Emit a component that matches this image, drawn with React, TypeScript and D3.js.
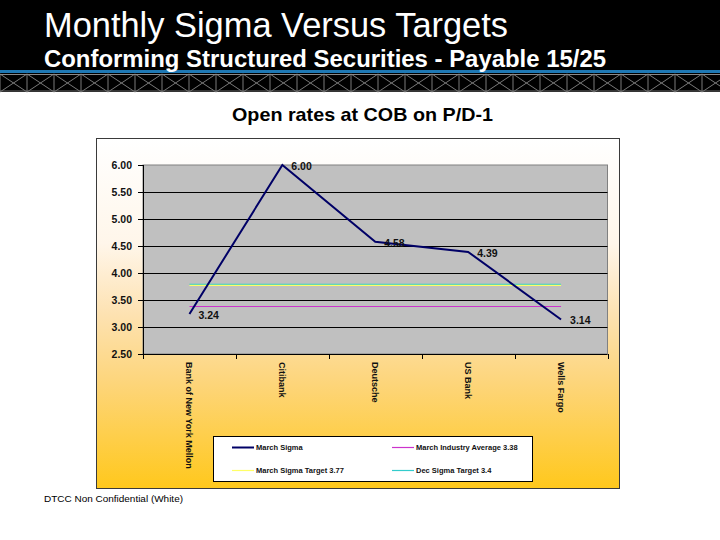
import React from "react";
import * as d3 from "d3";

const categories = ["Bank of New York Mellon", "Citibank", "Deutsche", "US Bank", "Wells Fargo"];
const marchSigma = [3.24, 6.0, 4.58, 4.39, 3.14];
const industryAverage = 3.38;
const marchSigmaTarget = 3.77;
const decSigmaTarget = 3.79;
const yTicks = [2.5, 3.0, 3.5, 4.0, 4.5, 5.0, 5.5, 6.0];
const legendItems = [
  { label: "March Sigma", color: "#000066" },
  { label: "March Industry Average 3.38", color: "#CC33CC" },
  { label: "March Sigma Target 3.77", color: "#FFFF66" },
  { label: "Dec Sigma Target 3.4", color: "#33CCCC" },
];

const W = 720;
const H = 540;
const frame = { x: 96, y: 138, w: 523, h: 350 };
const plot = { left: 143, right: 607.5, top: 165, bottom: 354 };

export default function App() {
  const y = d3.scaleLinear().domain([2.5, 6]).range([plot.bottom, plot.top]);
  const x = d3.scaleBand<string>().domain(categories).range([plot.left, plot.right]);
  const cx = (c: string) => (x(c) as number) + x.bandwidth() / 2;
  const line = d3
    .line<number>()
    .x((_, i) => cx(categories[i]))
    .y((d) => y(d));
  const firstX = cx(categories[0]);
  const lastX = cx(categories[categories.length - 1]);
  const boundaries = [...categories.map((c) => x(c) as number), plot.right];

  // truss pattern
  const cell = 27;
  const trussTop = 74;
  const trussBot = 92;
  const truss: string[] = [];
  for (let tx = 0; tx < W + cell; tx += cell) {
    truss.push(`M${tx},${trussTop}L${tx},${trussBot}`);
    truss.push(`M${tx},${trussTop}L${tx + cell},${trussBot}`);
    truss.push(`M${tx + cell},${trussTop}L${tx},${trussBot}`);
  }

  const font = "Arial, 'Liberation Sans', Helvetica, sans-serif";

  return (
    <svg width={W} height={H} style={{ position: "absolute", left: 0, top: 0, display: "block" }} fontFamily={font}>
      <defs>
        <linearGradient id="bg" x1="0" y1="0" x2="0" y2="1">
          <stop offset="0%" stopColor="#FFFFFF" />
          <stop offset="30%" stopColor="#FFF6EA" />
          <stop offset="50%" stopColor="#FDE2B2" />
          <stop offset="70%" stopColor="#FDD57A" />
          <stop offset="100%" stopColor="#FFC81C" />
        </linearGradient>
      </defs>
      <rect x={0} y={0} width={W} height={H} fill="#FFFFFF" />
      {/* header */}
      <rect x={0} y={0} width={W} height={trussBot} fill="#000000" />
      <path d={truss.join("")} stroke="#7A7A7A" strokeWidth={1} fill="none" />
      <line x1={0} x2={W} y1={trussTop + 0.5} y2={trussTop + 0.5} stroke="#8A8A8A" strokeWidth={1} />
      <line x1={0} x2={W} y1={trussBot - 1} y2={trussBot - 1} stroke="#6A6A6A" strokeWidth={1} />
      <rect x={0} y={70} width={W} height={3} fill="#1E78B4" />
      <text x={44} y={37} fill="#FFFFFF" fontSize={35} textLength={464} lengthAdjust="spacingAndGlyphs">
        Monthly Sigma Versus Targets
      </text>
      <text x={44} y={67} fill="#FFFFFF" fontSize={23} fontWeight="bold" textLength={562} lengthAdjust="spacingAndGlyphs">
        Conforming Structured Securities - Payable 15/25
      </text>
      <text x={232} y={121} fill="#000000" fontSize={18.5} fontWeight="bold" textLength={261} lengthAdjust="spacingAndGlyphs">
        Open rates at COB on P/D-1
      </text>

      {/* chart frame */}
      <rect x={frame.x + 0.5} y={frame.y + 0.5} width={frame.w} height={frame.h} fill="url(#bg)" stroke="#3A3A3A" strokeWidth={1} />

      {/* plot area */}
      <rect x={plot.left} y={plot.top} width={plot.right - plot.left} height={plot.bottom - plot.top} fill="#C0C0C0" stroke="#808080" strokeWidth={1} />
      {yTicks.map((t) => (
        <g key={t}>
          {t !== 6 && (
            <line x1={plot.left} x2={plot.right} y1={Math.round(y(t)) + 0.5} y2={Math.round(y(t)) + 0.5} stroke="#000000" strokeWidth={1} />
          )}
          <line x1={plot.left - 5} x2={plot.left} y1={Math.round(y(t)) + 0.5} y2={Math.round(y(t)) + 0.5} stroke="#000000" strokeWidth={1} />
          <text x={132} y={y(t) + 3.5} textAnchor="end" fontSize={10.5} fontWeight="bold" fill="#111111">
            {t.toFixed(2)}
          </text>
        </g>
      ))}
      <line x1={plot.left + 0.5} x2={plot.left + 0.5} y1={plot.top} y2={plot.bottom + 1} stroke="#000000" strokeWidth={1} />
      {boundaries.map((b, i) => (
        <line key={i} x1={Math.round(b) + 0.5} x2={Math.round(b) + 0.5} y1={plot.bottom} y2={plot.bottom + 5} stroke="#000000" strokeWidth={1} />
      ))}

      {/* target lines */}
      <line x1={firstX} x2={lastX} y1={y(decSigmaTarget)} y2={y(decSigmaTarget)} stroke="#33CCCC" strokeWidth={1.2} />
      <line x1={firstX} x2={lastX} y1={y(marchSigmaTarget)} y2={y(marchSigmaTarget)} stroke="#FFFF66" strokeWidth={1.2} />
      <line x1={firstX} x2={lastX} y1={y(industryAverage)} y2={y(industryAverage)} stroke="#CC33CC" strokeWidth={1.2} />

      {/* main series */}
      <path d={line(marchSigma) as string} fill="none" stroke="#000066" strokeWidth={2} />
      {marchSigma.map((v, i) => (
        <text key={i} x={cx(categories[i]) + 9} y={y(v) + 5} fontSize={10.5} fontWeight="bold" fill="#111111">
          {v.toFixed(2)}
        </text>
      ))}

      {/* category labels */}
      {categories.map((c) => (
        <text key={c} transform={`translate(${cx(c) - 3.5},362) rotate(90)`} fontSize={9} fontWeight="bold" fill="#111111">
          {c}
        </text>
      ))}

      {/* legend */}
      <rect x={213.5} y={436.5} width={319} height={45} fill="#FFFFFF" stroke="#000000" strokeWidth={1} />
      {legendItems.map((item, i) => {
        const col = i % 2;
        const row = Math.floor(i / 2);
        const lx = col === 0 ? 232 : 392;
        const ly = row === 0 ? 447.5 : 470.5;
        return (
          <g key={item.label}>
            <line x1={lx} x2={lx + 22} y1={ly} y2={ly} stroke={item.color} strokeWidth={i === 0 ? 2 : 1.2} />
            <text x={lx + 24} y={ly + 2.5} fontSize={7.5} fontWeight="bold" fill="#111111">
              {item.label}
            </text>
          </g>
        );
      })}

      <text x={44} y={502} fontSize={9} fill="#000000" textLength={139} lengthAdjust="spacingAndGlyphs">
        DTCC Non Confidential (White)
      </text>
    </svg>
  );
}
